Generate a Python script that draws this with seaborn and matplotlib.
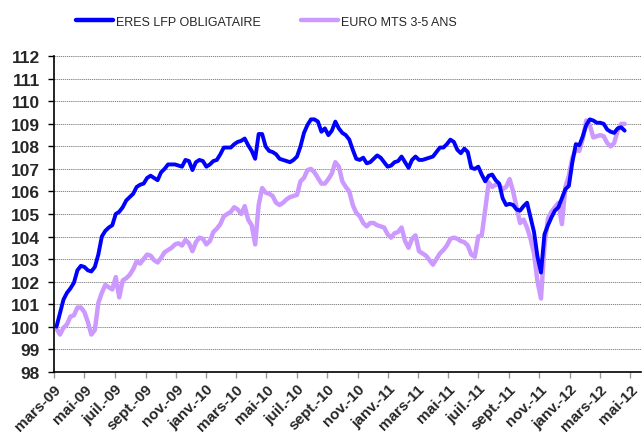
import pandas as pd
import numpy as np
import seaborn as sns
import matplotlib.pyplot as plt

# weekly values, starting friday 6 march 2009
start_date = '2009-03-06'

eres = [
    100.0, 100.6, 101.2, 101.5, 101.7, 101.95, 102.5, 102.7, 102.65, 102.5,
    102.45, 102.65, 103.2, 104.0, 104.25, 104.4, 104.5, 105.0, 105.1, 105.3,
    105.6, 105.75, 105.9, 106.2, 106.3, 106.35, 106.6, 106.7, 106.6, 106.5,
    106.85, 107.0, 107.2, 107.2, 107.2, 107.15, 107.1, 107.4, 107.35, 106.95,
    107.3, 107.4, 107.35, 107.1, 107.2, 107.35, 107.4, 107.65, 107.95, 107.95,
    107.95, 108.1, 108.2, 108.25, 108.35, 108.05, 107.8, 107.45, 108.55, 108.55,
    108.0, 107.8, 107.75, 107.65, 107.45, 107.4, 107.35, 107.3, 107.4, 107.55,
    108.0, 108.6, 108.95, 109.2, 109.2, 109.1, 108.65, 108.8, 108.5, 108.7,
    109.1, 108.8, 108.6, 108.5, 108.3, 107.85, 107.45, 107.4, 107.5, 107.25,
    107.3, 107.45, 107.6, 107.5, 107.3, 107.1, 107.15, 107.3, 107.35, 107.55,
    107.3, 107.05, 107.4, 107.55, 107.4, 107.4, 107.45, 107.5, 107.55, 107.75,
    107.95, 107.95, 108.1, 108.3, 108.2, 107.85, 107.7, 107.9, 107.75, 107.05,
    107.0, 107.1, 106.75, 106.45, 106.7, 106.75, 106.5, 106.35, 105.7, 105.4,
    105.45, 105.4, 105.2, 105.15, 105.35, 105.5, 104.85, 104.2, 103.1, 102.4,
    104.1, 104.5, 104.85, 105.15, 105.3, 105.7, 106.1, 106.25, 107.3, 108.1,
    108.05, 108.45, 108.95, 109.2, 109.15, 109.05, 109.05, 109.0, 108.75, 108.65,
    108.6, 108.8, 108.85, 108.7,
]

euro_mts = [
    99.9, 99.65, 99.95, 100.1, 100.45, 100.5, 100.85, 100.85, 100.65, 100.2,
    99.65, 99.85, 101.05, 101.5, 101.85, 101.75, 101.65, 102.2, 101.3, 102.05,
    102.15, 102.3, 102.55, 102.9, 102.8, 103.0, 103.2, 103.15, 102.95, 102.85,
    103.05, 103.3, 103.4, 103.5, 103.65, 103.7, 103.6, 103.85, 103.7, 103.35,
    103.75, 103.95, 103.9, 103.65, 103.8, 104.2, 104.35, 104.55, 104.9, 105.0,
    105.1, 105.3, 105.2, 105.0, 105.35, 104.75, 104.5, 103.65, 105.4, 106.15,
    105.95, 105.9, 105.8, 105.5, 105.4, 105.5, 105.65, 105.75, 105.8, 105.85,
    106.45, 106.6, 106.95, 107.0, 106.85, 106.6, 106.35, 106.35, 106.55, 106.8,
    107.3, 107.1, 106.45, 106.2, 106.0, 105.4, 105.05, 104.9, 104.6, 104.45,
    104.6, 104.6, 104.5, 104.45, 104.4, 104.1, 103.95, 104.15, 104.2, 104.4,
    103.8, 103.5, 103.9, 104.05, 103.35, 103.25, 103.15, 102.95, 102.75, 103.0,
    103.25, 103.4, 103.6, 103.9, 103.95, 103.9, 103.8, 103.75, 103.6, 103.2,
    103.1, 104.0, 104.05, 105.2, 106.4, 106.2, 106.3, 106.3, 106.1, 106.2,
    106.55, 106.0, 105.3, 104.6, 104.75, 104.4, 103.9, 103.25, 102.0, 101.25,
    103.6, 104.8, 105.1, 105.3, 105.5, 104.55, 106.2, 106.7, 107.5, 107.85,
    107.8, 108.35, 109.15, 108.95, 108.4, 108.45, 108.5, 108.45, 108.15, 108.0,
    108.15, 108.7, 109.0, 109.0,
]

series_names = ['ERES LFP OBLIGATAIRE', 'EURO MTS 3-5 ANS']
series_colors = ['#0000FF', '#CC99FF']

tick_dates = pd.date_range('2009-03-01', '2012-05-01', freq='2MS')
tick_labels = ['mars-09', 'mai-09', 'juil.-09', 'sept.-09', 'nov.-09',
               'janv.-10', 'mars-10', 'mai-10', 'juil.-10', 'sept.-10', 'nov.-10',
               'janv.-11', 'mars-11', 'mai-11', 'juil.-11', 'sept.-11', 'nov.-11',
               'janv.-12', 'mars-12', 'mai-12']

dates = pd.date_range(start_date, periods=len(eres), freq='7D')
df = pd.DataFrame({'date': dates, series_names[0]: eres, series_names[1]: euro_mts})
df = df.melt(id_vars='date', var_name='serie', value_name='valeur')

sns.set_style('white')
plt.rcParams['font.family'] = ['Liberation Sans', 'DejaVu Sans']

fig = plt.figure(figsize=(6.43, 4.39), dpi=100)
ax = fig.add_axes([0.084, 0.151, 0.913, 0.7185])

sns.lineplot(data=df, x='date', y='valeur', hue='serie', hue_order=series_names,
             palette=series_colors, ax=ax, legend=False)
ax.lines[0].set_linewidth(2.8)
ax.lines[1].set_linewidth(3.2)
ax.lines[1].set_zorder(2)
ax.lines[0].set_zorder(3)

ax.set_ylim(98, 112)
ax.set_yticks(np.arange(98, 113, 1))
ax.set_xlim(pd.Timestamp('2009-03-01'), pd.Timestamp('2012-05-23'))
ax.set_xticks(tick_dates)
ax.set_xticklabels(tick_labels, rotation=45, ha='right', rotation_mode='anchor',
                   fontsize=11, fontweight='bold')
for lab in ax.get_yticklabels():
    lab.set_fontsize(12.5)
    lab.set_fontweight('bold')

ax.grid(axis='y', linestyle=(0, (1.5, 1)), color='#707070', linewidth=0.6)
ax.set_axisbelow(True)
for s in ['top', 'right']:
    ax.spines[s].set_visible(False)
for s in ['left', 'bottom']:
    ax.spines[s].set_color('black')
    ax.spines[s].set_linewidth(1.2)
ax.tick_params(axis='y', left=True, length=4, width=1, color='black', pad=6)
ax.tick_params(axis='x', bottom=True, length=4, width=1, color='#999999', pad=3)
ax.set_xlabel('')
ax.set_ylabel('')

handles = [plt.Line2D([], [], color=c, linewidth=3.2) for c in series_colors]
fig.legend(handles, series_names, loc='center', bbox_to_anchor=(0.414, 0.948), ncol=2,
           frameon=False, fontsize=9, handlelength=3.0, handletextpad=0.2,
           columnspacing=3.2)

fig.savefig('out.png', dpi=100)
